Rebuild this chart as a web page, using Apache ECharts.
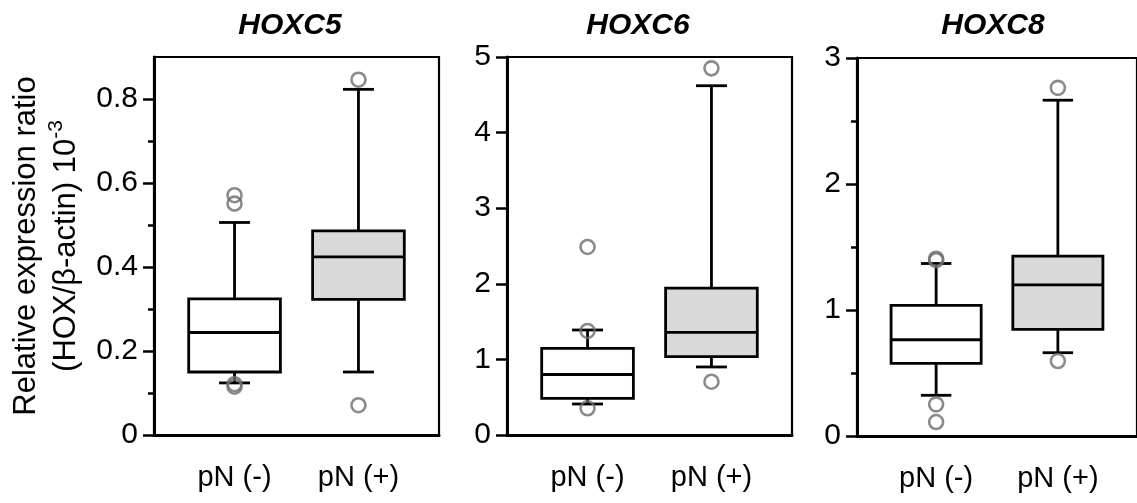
<!DOCTYPE html>
<html>
<head>
<meta charset="utf-8">
<script src="https://cdn.jsdelivr.net/npm/echarts@6/dist/echarts.min.js"></script>
<style>
html,body{margin:0;padding:0;background:#fff;}
#chart{width:1137px;height:503px;}
</style>
</head>
<body>
<div id="chart"></div>
<script>
// ---- data ----
const categories = ['pN (-)', 'pN (+)'];
const genes = ['HOXC5', 'HOXC6', 'HOXC8'];

// [lower whisker, Q1, median, Q3, upper whisker]
const hoxc5Box = [[0.124, 0.150, 0.244, 0.324, 0.506], [0.150, 0.323, 0.424, 0.486, 0.823]];
const hoxc6Box = [[0.41, 0.485, 0.80, 1.147, 1.389], [0.90, 1.036, 1.358, 1.944, 4.62]];
const hoxc8Box = [[0.323, 0.576, 0.764, 1.036, 1.369], [0.661, 0.846, 1.20, 1.427, 2.665]];

// outliers per group [pN(-), pN(+)]
const hoxc5Out = [[0.571, 0.551, 0.121, 0.115], [0.846, 0.071]];
const hoxc6Out = [[2.487, 1.376, 0.353], [4.85, 0.705]];
const hoxc8Out = [[1.407, 1.395, 0.251, 0.111], [2.763, 0.595]];

// axis ranges and tick labels
const yMax = [0.9, 5, 3];
const hoxc5Ticks = [0, 0.2, 0.4, 0.6, 0.8];
const hoxc6Ticks = [0, 1, 2, 3, 4, 5];
const hoxc8Ticks = [0, 1, 2, 3];
const hoxc5Minor = [0.1, 0.3, 0.5, 0.7];
const hoxc6Minor = [];
const hoxc8Minor = [0.5, 1.5, 2.5];

// ---- build ----
const boxes = [hoxc5Box, hoxc6Box, hoxc8Box];
const outs = [hoxc5Out, hoxc6Out, hoxc8Out];
const ticks = [hoxc5Ticks, hoxc6Ticks, hoxc8Ticks];
const minors = [hoxc5Minor, hoxc6Minor, hoxc8Minor];

const FONT = '"Liberation Sans", Arial, Helvetica, sans-serif';
const gridLefts = [154, 507, 857];
const titleCenters = [285, 633, 988];
const fills = ['#ffffff', '#d9d9d9'];

const chart = echarts.init(document.getElementById('chart'), null, {renderer: 'canvas'});

function renderBox(params, api) {
  const x = api.value(0);
  const unit = api.size([1, 0])[0];
  const bw = unit * 0.74, cw = unit * 0.25;
  const lo = api.coord([x, api.value(1)]);
  const q1 = api.coord([x, api.value(2)]);
  const md = api.coord([x, api.value(3)]);
  const q3 = api.coord([x, api.value(4)]);
  const hi = api.coord([x, api.value(5)]);
  const cx = lo[0];
  const ls = {stroke: '#000', lineWidth: 2.8};
  return {
    type: 'group',
    children: [
      {type: 'line', shape: {x1: cx, y1: q3[1], x2: cx, y2: hi[1]}, style: ls},
      {type: 'line', shape: {x1: cx - cw / 2, y1: hi[1], x2: cx + cw / 2, y2: hi[1]}, style: ls},
      {type: 'line', shape: {x1: cx, y1: q1[1], x2: cx, y2: lo[1]}, style: ls},
      {type: 'line', shape: {x1: cx - cw / 2, y1: lo[1], x2: cx + cw / 2, y2: lo[1]}, style: ls},
      {type: 'rect', shape: {x: cx - bw / 2, y: q3[1], width: bw, height: q1[1] - q3[1]},
        style: {fill: fills[params.dataIndex], stroke: '#000', lineWidth: 2.8}},
      {type: 'line', shape: {x1: cx - bw / 2, y1: md[1], x2: cx + bw / 2, y2: md[1]}, style: ls}
    ]
  };
}

const grid = [], xAxis = [], yAxis = [], series = [], title = [];
for (let i = 0; i < 3; i++) {
  grid.push({left: gridLefts[i], top: i === 2 ? 58 : 57, width: 285, height: 378,
    show: true, borderColor: '#000', borderWidth: 2.2, backgroundColor: 'transparent'});
  title.push({text: genes[i], left: titleCenters[i], top: 6, textAlign: 'center',
    textStyle: {fontFamily: FONT, fontSize: 30, fontWeight: 'bold', fontStyle: 'italic', color: '#000'}});
  xAxis.push({gridIndex: i, type: 'value', min: 0.35, max: 2.65,
    axisLine: {show: true, onZero: false, lineStyle: {color: '#000', width: 3}},
    axisTick: {show: false}, splitLine: {show: false},
    axisLabel: {customValues: [1, 2], formatter: v => categories[Math.round(v) - 1],
      fontFamily: FONT, fontSize: 29, color: '#000', margin: 28}});
  const ya = {gridIndex: i, type: 'value', min: 0, max: yMax[i], position: 'left',
    axisLine: {show: true, onZero: false, lineStyle: {color: '#000', width: 3}},
    axisTick: {show: true, length: 11, customValues: ticks[i], lineStyle: {color: '#000', width: 2.5}},
    axisLabel: {customValues: ticks[i], fontFamily: FONT, fontSize: 30, color: '#000', margin: 16},
    splitLine: {show: false}};
  if (i === 0) {
    ya.name = '{a|Relative expression ratio}\n{a|(HOX/β-actin) 10}{s|-3}';
    ya.nameLocation = 'middle';
    ya.nameGap = 68;
    ya.nameTextStyle = {fontFamily: FONT, fontSize: 31, color: '#000', lineHeight: 40,
      rich: {a: {fontFamily: FONT, fontSize: 31, color: '#000', lineHeight: 40},
             s: {fontFamily: FONT, fontSize: 21, color: '#000', lineHeight: 40, verticalAlign: 'top', padding: [0, 0, 14, 0]}}};
  }
  yAxis.push(ya);
  series.push({type: 'custom', xAxisIndex: i, yAxisIndex: i, renderItem: renderBox,
    encode: {x: 0, y: [1, 2, 3, 4, 5]}, z: 2,
    data: boxes[i].map((b, k) => [k + 1].concat(b))});
  const od = [];
  outs[i].forEach((arr, k) => arr.forEach(v => od.push([k + 1, v])));
  series.push({type: 'scatter', xAxisIndex: i, yAxisIndex: i, symbol: 'circle', symbolSize: 14, z: 3,
    itemStyle: {color: 'rgba(0,0,0,0)', borderColor: '#6e6e6e', borderWidth: 2.6}, data: od});
}
// minor ticks on extra axes
for (let i = 0; i < 3; i++) {
  if (!minors[i].length) continue;
  yAxis.push({gridIndex: i, type: 'value', min: 0, max: yMax[i], position: 'left', offset: 0,
    axisLine: {show: false}, axisLabel: {show: false}, splitLine: {show: false},
    axisTick: {show: true, length: 6, customValues: minors[i], lineStyle: {color: '#000', width: 2.5}}});
}

chart.setOption({
  animation: false,
  backgroundColor: '#fff',
  title, grid, xAxis, yAxis, series
});
</script>
</body>
</html>
